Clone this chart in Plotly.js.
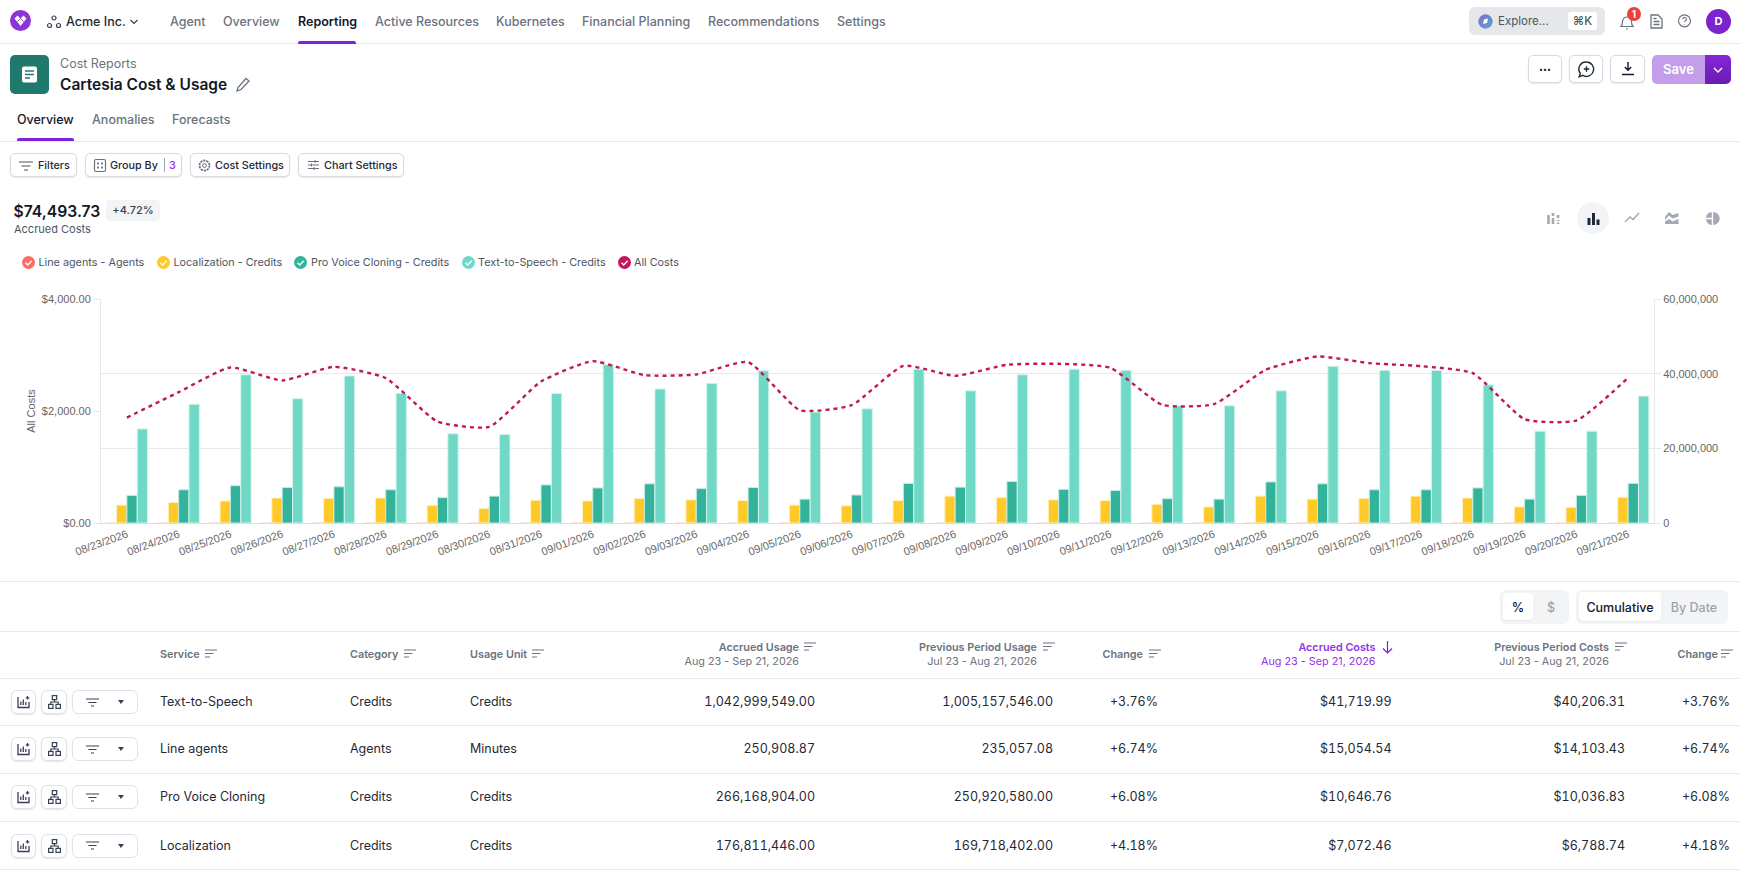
<!DOCTYPE html>
<html><head><meta charset="utf-8">
<script src="https://cdn.plot.ly/plotly-3.0.1.min.js"></script>
<style>
html,body{margin:0;padding:0;background:#fff;width:1740px;height:872px;overflow:hidden;font-family:Inter,"Noto Sans",sans-serif;color:#111827;-webkit-font-smoothing:antialiased}
.a{position:absolute;white-space:nowrap}
.num{font-variant-numeric:tabular-nums}
.box{position:absolute;box-sizing:border-box}
.btn{position:absolute;box-sizing:border-box;background:#fff;border:1px solid #d6dae1;border-radius:5px;box-shadow:0 1px 1.5px rgba(16,24,40,.10)}
.hl{position:absolute;left:0;width:1740px;height:1px;background:#e7e9ed}
svg{position:absolute;overflow:visible}
#chart{position:absolute;left:0;top:280px;width:1740px;height:300px}
</style></head><body>
<div id="chart"></div>
<div id="ui"></div>
<script>
// ---------- chart data ----------
const dates = ["08/23/2026","08/24/2026","08/25/2026","08/26/2026","08/27/2026","08/28/2026","08/29/2026","08/30/2026","08/31/2026","09/01/2026","09/02/2026","09/03/2026","09/04/2026","09/05/2026","09/06/2026","09/07/2026","09/08/2026","09/09/2026","09/10/2026","09/11/2026","09/12/2026","09/13/2026","09/14/2026","09/15/2026","09/16/2026","09/17/2026","09/18/2026","09/19/2026","09/20/2026","09/21/2026"];
const lineAgents = [6300,8000,9900,9100,10000,9200,6100,5700,9000,10400,9400,9500,10300,7200,7500,10000,9400,10100,10200,9900,7500,7600,9800,10600,10200,10000,9600,6600,6500,9300];
const localization = [4800000,5500000,5900000,6700000,6600000,6700000,4700000,3900000,6100000,5900000,6600000,6200000,6000000,4800000,4600000,6000000,7200000,6800000,6200000,6000000,5000000,4300000,7200000,6400000,6600000,7200000,6700000,4300000,4200000,6900000];
const proVoice = [7400000,8900000,10000000,9500000,9700000,8900000,6800000,7200000,10200000,9400000,10500000,9200000,9500000,6400000,7500000,10600000,9600000,11100000,9000000,8700000,6500000,6400000,11000000,10500000,8900000,8900000,9400000,6400000,7400000,10600000];
const textToSpeech = [25200000,31800000,39700000,33300000,39400000,34700000,23900000,23700000,34700000,42400000,35900000,37400000,40800000,29700000,30600000,41200000,35400000,39700000,41200000,40900000,31400000,31400000,35400000,42000000,40900000,40900000,37000000,24600000,24600000,34000000];
const allCosts = [1883,2336,2777,2545,2789,2587,1812,1716,2527,2890,2640,2652,2873,2014,2104,2807,2628,2825,2843,2771,2110,2122,2736,2974,2855,2801,2676,1854,1830,2593];
const leftTicks = [0,2000,4000];
const leftTickLabels = ["$0.00","$2,000.00","$4,000.00"];
const rightTicks = [0,20000000,40000000,60000000];
const rightTickLabels = ["0","20,000,000","40,000,000","60,000,000"];

// ---------- page text ----------
const navItems = ["Agent","Overview","Reporting","Active Resources","Kubernetes","Financial Planning","Recommendations","Settings"];
const tabItems = ["Overview","Anomalies","Forecasts"];
const legendNames = ["Line agents - Agents","Localization - Credits","Pro Voice Cloning - Credits","Text-to-Speech - Credits","All Costs"];
const services = ["Text-to-Speech","Line agents","Pro Voice Cloning","Localization"];
const categories = ["Credits","Agents","Credits","Credits"];
const usageUnits = ["Credits","Minutes","Credits","Credits"];
const accruedUsage = ["1,042,999,549.00","250,908.87","266,168,904.00","176,811,446.00"];
const previousUsage = ["1,005,157,546.00","235,057.08","250,920,580.00","169,718,402.00"];
const usageChange = ["+3.76%","+6.74%","+6.08%","+4.18%"];
const accruedCosts = ["$41,719.99","$15,054.54","$10,646.76","$7,072.46"];
const previousCosts = ["$40,206.31","$14,103.43","$10,036.83","$6,788.74"];
const costChange = ["+3.76%","+6.74%","+6.08%","+4.18%"];

// ---------- chart ----------
const barTrace = (name,y,c,lc)=>({type:'bar',name,x:dates,y,yaxis:'y',marker:{color:c,line:{color:lc,width:1}},hoverinfo:'skip'});
const traces = [
  barTrace(legendNames[0],lineAgents,'#fb6f63','#fde0dc'),
  barTrace(legendNames[1],localization,'#ffc928','#fff0c0'),
  barTrace(legendNames[2],proVoice,'#33b39b','#c4ebe2'),
  barTrace(legendNames[3],textToSpeech,'#70d9c5','#d3f3ec'),
  {type:'scatter',mode:'lines',name:legendNames[4],x:dates,y:allCosts,yaxis:'y2',
   line:{color:'#c2185b',width:2.4,dash:'4px,4px',shape:'spline',smoothing:0.5},hoverinfo:'skip'}
];
const tickFont={family:'"Liberation Sans",Arial,sans-serif',size:11,color:'#666'};
const gc='#e8e8e8';
const layout={
  width:1740,height:300,paper_bgcolor:'rgba(0,0,0,0)',plot_bgcolor:'rgba(0,0,0,0)',
  margin:{l:101,r:86,t:19,b:57},showlegend:false,barmode:'group',bargap:0.2,bargroupgap:0,
  xaxis:{type:'category',tickangle:-20,tickfont:tickFont,showgrid:false,zeroline:false,showline:true,linecolor:'#dcdce6',ticks:'',automargin:false},
  yaxis:{side:'right',range:[0,60000000],tickmode:'array',tickvals:rightTicks,ticktext:rightTickLabels,tickfont:tickFont,
    gridcolor:gc,gridwidth:1,zeroline:false,showline:true,linecolor:gc,ticks:'outside',ticklen:6,tickcolor:gc,automargin:false},
  yaxis2:{side:'left',overlaying:'y',range:[0,4000],tickmode:'array',tickvals:leftTicks,ticktext:leftTickLabels,tickfont:tickFont,
    showgrid:false,zeroline:false,showline:true,linecolor:gc,ticks:'outside',ticklen:7,tickcolor:gc,automargin:false,
    title:{text:'All Costs',font:tickFont,standoff:4}}
};
Plotly.newPlot('chart',traces,layout,{displayModeBar:false,staticPlot:true});

// ---------- page chrome ----------
const ui=document.getElementById('ui');
function T(x,y,text,o={}){const e=document.createElement('div');e.className='a'+(o.num?' num':'');e.textContent=text;
  let tr='translateY(-50%)';
  if(o.align==='right')tr='translate(-100%,-50%)'; if(o.align==='center')tr='translate(-50%,-50%)';
  e.style.cssText=`left:${x}px;top:${y}px;transform:${tr};font-size:${o.size||13}px;font-weight:${o.w||400};color:${o.c||'#111827'};`;
  ui.appendChild(e);return e;}
function B(x0,y0,x1,y1,css,cls){const e=document.createElement('div');e.className=cls||'box';
  e.style.cssText=`left:${x0}px;top:${y0}px;width:${x1-x0}px;height:${y1-y0}px;`+(css||'');ui.appendChild(e);return e;}
function HL(y){const e=document.createElement('div');e.className='hl';e.style.top=y+'px';ui.appendChild(e);}
function S(x,y,w,h,body,attrs){const d=document.createElement('div');
  d.innerHTML=`<svg style="left:${x}px;top:${y}px" width="${w}" height="${h}" viewBox="0 0 ${w} ${h}" fill="none" ${attrs||''}>${body}</svg>`;ui.appendChild(d);}
const sortIcon=(x,y,c)=>S(x,y,12,10,`<path d="M0 1h12M0 4.5h8.5M0 8h5" stroke="${c||'#6b7280'}" stroke-width="1.1"/>`);

// top nav
S(10,10,21,21,`<circle cx="10.5" cy="10.5" r="10.5" fill="#8b35d6"/><path d="M4.5 8.500L7.500 5.500L10.500 8.500L13.500 5.500L16.500 8.500L10.500 16Z" fill="#fff"/><path d="M10.500 8.500L7.500 11.500M10.500 8.500L13.500 11.500" stroke="#8b35d6" stroke-width="1"/>`);
S(47,15,14,13,`<circle cx="7" cy="3" r="2" stroke="#374151" stroke-width="1.2"/><circle cx="2.5" cy="10.5" r="2" stroke="#374151" stroke-width="1.2"/><circle cx="11.5" cy="10.5" r="2" stroke="#374151" stroke-width="1.2"/>`);
T(66,21,"Acme Inc.",{size:12.5,w:500,c:'#1f2937'});
S(130,18.5,8,6,`<path d="M.5 1l3.500 3.500L7.500 1" stroke="#374151" stroke-width="1.2"/>`);
const navX=[170,223,298,375,496,582,708,837];
navItems.forEach((n,i)=>T(navX[i],21,n,{size:12.5,w:i==2?600:500,c:i==2?'#111827':'#6b7280'}));
HL(43);
B(298,41,356,44,'background:#7e22dc;border-radius:2px 2px 0 0;');

// top right
B(1469,7,1605,35,'background:#e5e7eb;border-radius:6px;');
S(1478,14,15,15,`<defs><linearGradient id="g" x1="0" y1="0" x2="1" y2="1"><stop offset="0" stop-color="#7c6fd6"/><stop offset="1" stop-color="#5aa7c7"/></linearGradient></defs><circle cx="7.5" cy="7.5" r="7.2" fill="url(#g)"/><path d="M5 10l1-4.5 4-1-1 4.5z" fill="#fff"/>`);
T(1498,21,"Explore...",{size:11.500,c:'#4b5563'});
B(1568,12,1597,30,'background:#fff;border-radius:3px;');
T(1582.5,21,"⌘K",{size:11.5,c:'#4b5563',w:500,align:'center'});
S(1620,15,14,15,`<path d="M1 11.5c1.5-1.5 1.5-3 1.5-5a4.5 4.5 0 019 0c0 2 0 3.500 1.500 5zM6 14h2" stroke="#6b7280" stroke-width="1.2"/>`);
B(1627,7,1641,21,'background:#ef3c3c;border-radius:50%;');
T(1634,14,"1",{size:10,w:700,c:'#fff',align:'center'});
S(1650,14,13,15,`<path d="M1 1h7l4 4v9H1zM3.500 7.500h6M3.500 10.500h6M3.500 4.500h3" stroke="#6b7280" stroke-width="1.3"/>`);
S(1677.500,14,13,15,`<circle cx="6.500" cy="6.800" r="6" stroke="#6b7280" stroke-width="1.200"/><path d="M4.800 5.300a1.800 1.800 0 113 1.300c-.8.500-1.300.8-1.300 1.700M6.500 10.300v.5" stroke="#6b7280" stroke-width="1.100"/>`);
B(1706,8.500,1731,33.500,'background:#7c22ce;border-radius:50%;');
T(1718.500,21,"D",{size:11,w:700,c:'#fff',align:'center'});

// report header
B(10,55,49,94,'background:#1f7a6d;border-radius:5px;');
S(21,66,17,17,`<rect x="1" y="0.500" width="15" height="16" rx="2" fill="#fff"/><path d="M4 5h9M4 8.500h9M4 12h5" stroke="#1f7a6d" stroke-width="1.500"/>`);
T(60,63,"Cost Reports",{size:12.500,c:'#6b7280'});
T(60,84,"Cartesia Cost & Usage",{size:15.500,w:600,c:'#111827'});
S(236,77,14,15,`<path d="M1 14l1-3.500L10 1.500l3 2.500-8 8.500z" stroke="#6b7280" stroke-width="1.300"/>`);
B(1528,55,1562,83,'',"btn"); T(1545,69,"•••",{size:7,c:'#111827',align:'center'});
B(1569,55,1603,83,'',"btn"); S(1577.500,60.500,17,17,`<path d="M8.500 1a7.200 7.200 0 11-3.700 13.400L1.200 15.800l1.100-3.300A7.200 7.200 0 018.500 1zM8.500 5.200v5.500M5.800 8h5.500" stroke="#1f2937" stroke-width="1.400"/>`);
B(1610,55,1645,83,'',"btn"); S(1621,61,14,15,`<path d="M7 1v8M3.800 6L7 9.300 10.200 6M1 13.500h12" stroke="#111827" stroke-width="1.400"/>`);
B(1652,55,1705,84,'background:#c39fe9;border-radius:5px 0 0 5px;');
T(1678.500,69,"Save",{size:13,w:600,c:'#fff',align:'center'});
B(1705,55,1731,84,'background:linear-gradient(#8428d8,#6a1cb0);border-radius:0 5px 5px 0;');
S(1713,66.500,10,6,`<path d="M1 1l4 4 4-4" stroke="#fff" stroke-width="1.400"/>`);

// tabs
const tabX=[17,92,172];
tabItems.forEach((n,i)=>T(tabX[i],118.500,n,{size:12.500,w:500,c:i==0?'#111827':'#6b7280'}));
B(17,138,74,141,'background:#7e22dc;border-radius:2px 2px 0 0;');
HL(141);

// toolbar
B(10,153,77,177,'',"btn");
S(19,161,14,10,`<path d="M0 1h14M2.500 5h9M5 9h4" stroke="#4b5563" stroke-width="1.200"/>`);
T(38,165,"Filters",{size:10.800,w:500,c:'#1f2937'});
B(85,153,182,177,'',"btn");
S(94,158.500,12,13,`<rect x=".5" y=".5" width="11" height="12" rx="1.500" stroke="#6b7280" stroke-width="1.200"/><path d="M4 4.500h0M8 4.500h0M4 8.500h0M8 8.500h0" stroke="#6b7280" stroke-width="1.800" stroke-linecap="square"/>`);
T(110,165,"Group By",{size:10.800,w:500,c:'#1f2937'});
B(164,158,165,172,'background:#9ca3af;');
T(169,165,"3",{size:10.800,w:500,c:'#9333ea'});
B(190,153,290,177,'',"btn");
S(198,158.500,13,13,`<circle cx="6.500" cy="6.500" r="5" stroke="#6b7280" stroke-width="1.800" stroke-dasharray="2.200 .9"/><circle cx="6.500" cy="6.500" r="1.900" stroke="#6b7280"/>`);
T(215,165,"Cost Settings",{size:10.800,w:500,c:'#1f2937'});
B(298,153,404,177,'',"btn");
S(308,159,11,12,`<path d="M0 2.500h11M0 6h11M0 9.500h11M7 1v3M3.500 4.500v3M6 8v3" stroke="#6b7280"/>`);
T(324,165,"Chart Settings",{size:10.800,w:500,c:'#1f2937'});

// total
T(13.500,211,"$74,493.73",{size:15.700,w:600,c:'#111827'});
B(106,200,160,221,'background:#f3f4f6;border-radius:4px;');
T(133,209.500,"+4.72%",{size:11,w:500,c:'#374151',align:'center'});
T(14,229,"Accrued Costs",{size:11,c:'#4b5563'});

// chart-type icons
B(1577,202,1609,234,'background:#f3f4f6;border-radius:50%;');
S(1547,212,13,12,`<path d="M1.500 3v9M6 1v3M6 6v6M11 3v3M11 8v1M11 10.500v1.500" stroke="#a3a9b3" stroke-width="2.600"/>`);
S(1587,211.500,13,13,`<path d="M2 6v7M6.500 1v12M11 7.500v5.500" stroke="#1f2937" stroke-width="3"/>`);
S(1625,212,15,11,`<path d="M0 10l5-5 3 2.500 6-6.500" stroke="#a3a9b3" stroke-width="1.400"/>`);
S(1664.500,211,14,13,`<path d="M0 6l4-5 3.500 3 6-2v3.500l-6 2-3.500-3-4 4.500zM0 10.500l4-2.500 3.500 2.500 6-2.500V13H0z" fill="#a3a9b3"/>`);
S(1705.500,212,13,13,`<path d="M5.800 0v5.800H0A6 6 0 015.800 0zM0 7.200h5.800V13A6 6 0 010 7.200zM7.200 0A6.500 6.500 0 017.200 13z" fill="#a3a9b3"/>`);

// legend
const legendColors=['#fb6f63','#ffc928','#33b39b','#70d9c5','#c2185b'];
const legendCx=[28,163,300,468,624];
const legendTx=[38.500,173.500,311,478,634];
legendNames.forEach((n,i)=>{
  S(legendCx[i]-6.500,255.500,13,13,`<circle cx="6.500" cy="6.500" r="6.500" fill="${legendColors[i]}"/><path d="M3.500 6.800l2.200 2.200 4-4.300" stroke="#fff" stroke-width="1.300"/>`);
  T(legendTx[i],262,n,{size:10.800,c:'#4b5563'});
});

// lower panel
HL(581); HL(631); HL(678); HL(725); HL(773); HL(821); HL(869);
B(1500,590,1569,624,'background:#f3f4f6;border-radius:6px;');
B(1503,593,1533,620,'background:#fff;border-radius:4px;box-shadow:0 1px 1px rgba(0,0,0,.05);');
T(1518,607,"%",{size:12.500,w:500,c:'#111827',align:'center'});
T(1551,607,"$",{size:12.500,w:500,c:'#9ca3af',align:'center'});
B(1576,590,1728,624,'background:#f3f4f6;border-radius:6px;');
B(1579,592,1661,621,'background:#fff;border-radius:4px;box-shadow:0 1px 1px rgba(0,0,0,.05);');
T(1620,606.500,"Cumulative",{size:12.500,w:500,c:'#111827',align:'center'});
T(1694,606.500,"By Date",{size:12.500,w:500,c:'#9ca3af',align:'center'});

// table header
const hc='#6b7280', hs=10.800;
T(160,654,"Service",{size:hs,w:600,c:hc}); sortIcon(204.500,649);
T(350,654,"Category",{size:hs,w:600,c:hc}); sortIcon(403.500,649);
T(470,654,"Usage Unit",{size:hs,w:600,c:hc}); sortIcon(531.500,649);
T(799,647,"Accrued Usage",{size:hs,w:600,c:hc,align:'right'}); sortIcon(804,642);
T(799,661,"Aug 23 - Sep 21, 2026",{size:hs,c:hc,align:'right'});
T(1037,647,"Previous Period Usage",{size:hs,w:600,c:hc,align:'right'}); sortIcon(1043,642);
T(1037,661,"Jul 23 - Aug 21, 2026",{size:hs,c:hc,align:'right'});
T(1143,654,"Change",{size:hs,w:600,c:hc,align:'right'}); sortIcon(1149,649);
T(1375.500,647,"Accrued Costs",{size:hs,w:600,c:'#9333ea',align:'right'});
S(1382,641,11,13,`<path d="M5.500 0v12M1 7.500l4.500 4.500 4.500-4.500" stroke="#7e22dc" stroke-width="1.200"/>`);
T(1375.500,661,"Aug 23 - Sep 21, 2026",{size:hs,c:'#9333ea',align:'right'});
T(1609,647,"Previous Period Costs",{size:hs,w:600,c:hc,align:'right'}); sortIcon(1615,642);
T(1609,661,"Jul 23 - Aug 21, 2026",{size:hs,c:hc,align:'right'});
T(1718,654,"Change",{size:hs,w:600,c:hc,align:'right'}); sortIcon(1721,649);

// table rows
const rowY=[701,748,796,844.500];
const rowNum={size:12.500,c:'#1f2937',align:'right',num:true};
services.forEach((s,i)=>{
  const y=rowY[i], by=[702,749,797,845.500][i];
  B(10.500,by-12,36,by+12,'border-color:#dfe2e8;border-radius:6px;',"btn");
  S(17,by-7,13,14,`<path d="M1 2v10.500h11V7M3.800 6.500v3.500M6.300 4.500v5.500M8.800 7v3M10.500 1v3.500M8.800 2.800h3.500" stroke="#374151" stroke-width="1.300"/>`);
  B(41,by-12,67,by+12,'border-color:#dfe2e8;border-radius:6px;',"btn");
  S(47.500,by-7,13,14,`<rect x="4.300" y=".6" width="4.400" height="4" stroke="#374151" stroke-width="1.200"/><rect x=".6" y="9.400" width="4.400" height="4" stroke="#374151" stroke-width="1.200"/><rect x="8" y="9.400" width="4.400" height="4" stroke="#374151" stroke-width="1.200"/><path d="M6.500 4.600v2.400M2.800 9.400V7h7.400v2.400" stroke="#374151" stroke-width="1.200"/>`);
  B(71.500,by-12,137.500,by+12,'border-color:#dfe2e8;border-radius:6px;box-shadow:none;',"btn");
  S(86,by-4.500,13,9,`<path d="M0 1h13M2.500 4.500h8M5 8h3" stroke="#374151" stroke-width="1.200"/>`);
  S(118,by-2,6,4,`<path d="M0 0h6L3 4z" fill="#374151"/>`);
  T(160,y,s,{size:12.500,c:'#1f2937'});
  T(350,y,categories[i],{size:12.500,c:'#1f2937'});
  T(470,y,usageUnits[i],{size:12.500,c:'#1f2937'});
  T(815,y,accruedUsage[i],rowNum);
  T(1053,y,previousUsage[i],rowNum);
  T(1158,y,usageChange[i],rowNum);
  T(1391.500,y,accruedCosts[i],rowNum);
  T(1625,y,previousCosts[i],rowNum);
  T(1730,y,costChange[i],rowNum);
});
</script>
</body></html>
